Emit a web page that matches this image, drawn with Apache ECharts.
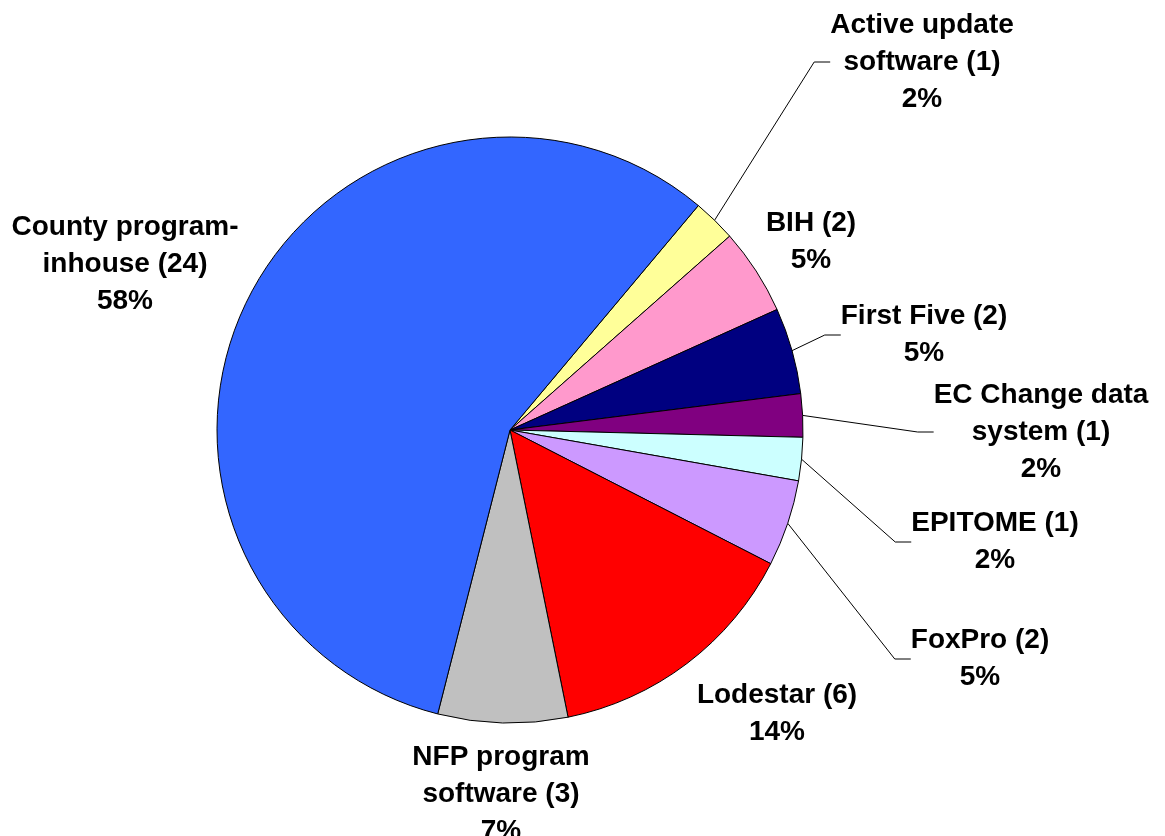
<!DOCTYPE html>
<html>
<head>
<meta charset="utf-8">
<script src="https://cdn.jsdelivr.net/npm/echarts@6/dist/echarts.min.js"></script>
<style>
  html, body { margin: 0; padding: 0; background: #fff; }
  #chart { width: 1165px; height: 836px; }
</style>
</head>
<body>
<div id="chart"></div>
<script>
// slices, clockwise from the yellow one
const categories = [
  'Active update\nsoftware', 'BIH', 'First Five', 'EC Change data\nsystem',
  'EPITOME', 'FoxPro', 'Lodestar', 'NFP program\nsoftware', 'County program-\ninhouse'
];
const counts = [1, 2, 2, 1, 1, 2, 6, 3, 24];
const percentLabels = ['2%', '5%', '5%', '2%', '2%', '5%', '14%', '7%', '58%'];
const colors = ['#FFFF99', '#FF99CC', '#000080', '#800080', '#CCFFFF', '#CC99FF', '#FF0000', '#C0C0C0', '#3366FF'];
const hasLeader = [true, false, true, true, true, true, false, false, false];

// where each label block sits (centre of the text)
const labelSpots = [
  [922, 62], [811, 242], [924, 335], [1041, 432], [995, 542],
  [980, 659], [777, 714], [501, 794], [125, 264]
];

const chart = echarts.init(document.getElementById('chart'), null, {renderer: 'canvas'});

const option = {
  animation: false,
  backgroundColor: '#fff',
  series: [{
    type: 'pie',
    center: [510, 430],
    radius: 293,
    startAngle: 50,
    clockwise: true,
    avoidLabelOverlap: false,
    silent: true,
    itemStyle: {borderColor: '#000', borderWidth: 1},
    label: {
      show: true,
      position: 'outside',
      color: '#000',
      fontFamily: '"Liberation Sans", Arial, sans-serif',
      fontWeight: 'bold',
      fontSize: 28,
      lineHeight: 37,
      align: 'center',
      formatter: function (p) {
        return p.name + ' (' + p.value + ')\n' + percentLabels[p.dataIndex];
      }
    },
    labelLine: {
      show: true,
      length: 10,
      length2: 16,
      smooth: false,
      lineStyle: {color: '#000', width: 1}
    },
    labelLayout: function (params) {
      const s = labelSpots[params.dataIndex];
      return {x: s[0], y: s[1], align: 'center', verticalAlign: 'middle', hideOverlap: false};
    },
    data: categories.map(function (name, i) {
      return {
        name: name,
        value: counts[i],
        itemStyle: {color: colors[i]},
        labelLine: {show: hasLeader[i]}
      };
    })
  }]
};

chart.setOption(option);
</script>
</body>
</html>
